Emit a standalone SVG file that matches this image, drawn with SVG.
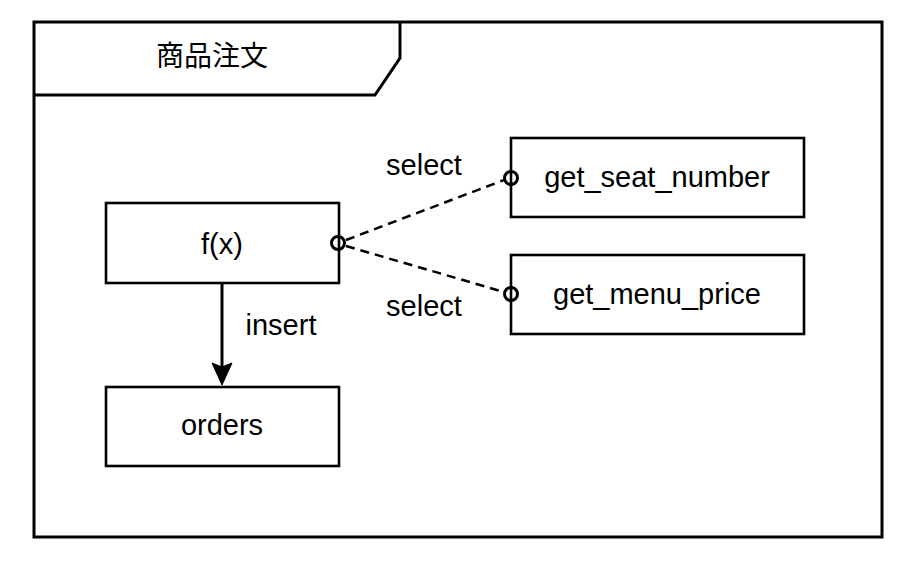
<svg xmlns="http://www.w3.org/2000/svg" width="917" height="564" viewBox="0 0 917 564">
<defs>
<style>
.box{fill:#fff;stroke:#000;stroke-width:2.6}
.t{font-family:"Liberation Sans",Arial,sans-serif;font-size:29px;fill:#000}
.c{text-anchor:middle}
.dash{fill:none;stroke:#000;stroke-width:2.5;stroke-dasharray:9 6}
.circ{fill:none;stroke:#000;stroke-width:3}
</style>
</defs>
<rect width="917" height="564" fill="#fff"/>
<g id="frame">
<rect x="34" y="22" width="848" height="515" fill="none" stroke="#000" stroke-width="3"/>
<path d="M34,95 L375,95 L400,58 L400,22" fill="none" stroke="#000" stroke-width="3"/>
<text class="c" x="212" y="66" style="font-family:'Noto Sans CJK JP','Liberation Sans',sans-serif;font-size:28px;fill:#000">商品注文</text>
</g>
<g id="fx">
<rect class="box" x="106" y="203" width="233" height="80"/>
<text class="t c" x="222" y="254">f(x)</text>
</g>
<g id="orders">
<rect class="box" x="106" y="387" width="233" height="79"/>
<text class="t c" x="222" y="435">orders</text>
</g>
<g id="get_seat_number">
<rect class="box" x="511" y="138" width="293" height="79"/>
<text class="t c" x="657" y="187">get_seat_number</text>
</g>
<g id="get_menu_price">
<rect class="box" x="511" y="255" width="293" height="79"/>
<text class="t c" x="657" y="304">get_menu_price</text>
</g>
<g id="connectors">
<line x1="222" y1="283" x2="222" y2="368" stroke="#000" stroke-width="3"/>
<path d="M222,385 L212,363 L222,367 L232,363 Z" fill="#000" stroke="#000" stroke-width="1"/>
<text class="t c" x="281" y="335">insert</text>
<line class="dash" x1="346" y1="240" x2="504" y2="180"/>
<line class="dash" x1="346" y1="246" x2="504" y2="292"/>
<circle class="circ" cx="338" cy="243" r="6.5"/>
<circle class="circ" cx="511" cy="178" r="6.5"/>
<circle class="circ" cx="511" cy="294" r="6.5"/>
<text class="t c" x="424" y="175">select</text>
<text class="t c" x="424" y="316">select</text>
</g>
</svg>
